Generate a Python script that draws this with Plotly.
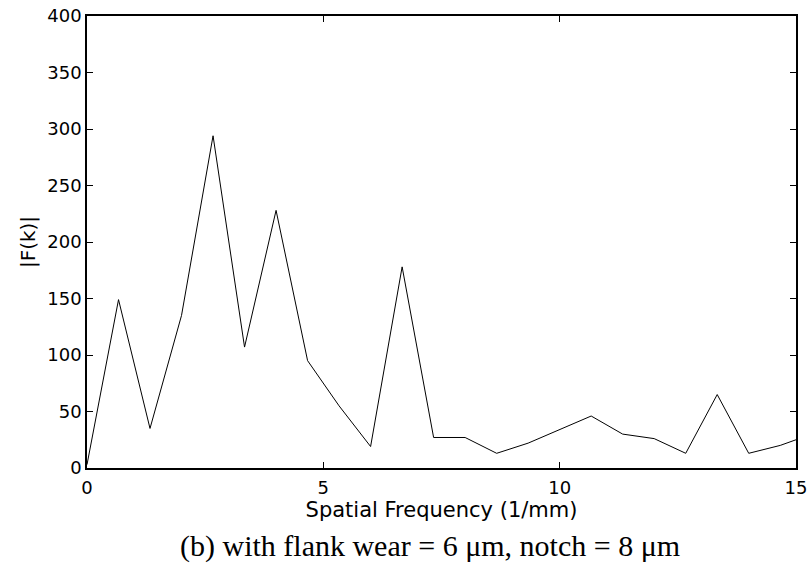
import plotly.graph_objects as go

freq = [0.0, 0.667, 1.333, 2.0, 2.667, 3.333, 4.0, 4.667, 5.333, 6.0, 6.667, 7.333,
        8.0, 8.667, 9.333, 10.0, 10.667, 11.333, 12.0, 12.667, 13.333, 14.0, 14.667, 15.333]
mag = [3, 149, 35, 135, 294, 107, 228, 95, 55, 19, 178, 27,
       27, 13, 22, 34, 46, 30, 26, 13, 65, 13, 20, 30]

x_ticks = [0, 5, 10, 15]
y_ticks = [0, 50, 100, 150, 200, 250, 300, 350, 400]

fig = go.Figure()
fig.add_trace(go.Scatter(x=freq, y=mag, mode="lines",
                         line=dict(color="black", width=1), showlegend=False))

axis_common = dict(showgrid=False, zeroline=False, showline=True, linecolor="black",
                   linewidth=1.5, mirror="ticks", ticks="inside", ticklen=6,
                   tickcolor="black", automargin=False, ticklabeloverflow="allow",
                   tickfont=dict(family="DejaVu Sans", size=18, color="black"))

fig.update_layout(
    width=809, height=569,
    margin=dict(l=87, r=13, t=16, b=101),
    paper_bgcolor="white", plot_bgcolor="white",
    xaxis=dict(range=[0, 15], tickvals=x_ticks, ticklabelstandoff=3,
               title=dict(text="Spatial Frequency (1/mm)", standoff=1,
                          font=dict(family="DejaVu Sans", size=21, color="black")),
               **axis_common),
    yaxis=dict(range=[0, 400], tickvals=y_ticks,
               title=dict(text="|F(k)|", standoff=6,
                          font=dict(family="DejaVu Sans", size=20, color="black")),
               **axis_common),
    annotations=[dict(text="(b) with flank wear = 6 \u03bcm, notch = 8 \u03bcm",
                      xref="paper", yref="paper", x=0.484, y=-0.173, xanchor="center", yanchor="middle",
                      showarrow=False,
                      font=dict(family="Liberation Serif, Times New Roman", size=30, color="black"))],
)

fig.write_html("out.html", config={"displayModeBar": False},
               post_script="document.body.style.margin='0';document.body.style.overflow='hidden';")
